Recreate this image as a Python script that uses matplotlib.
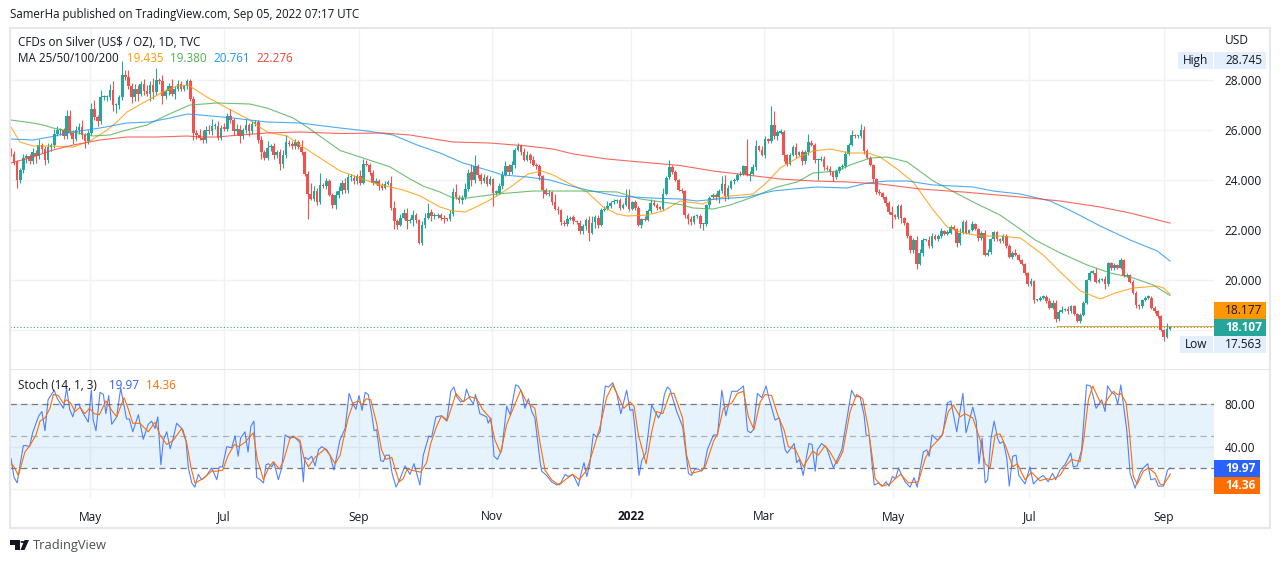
import numpy as np
import matplotlib
matplotlib.use("Agg")
import matplotlib.pyplot as plt
from matplotlib.patches import Rectangle, Polygon, Circle

plt.rcParams['font.family'] = ['Open Sans', 'DejaVu Sans']

# daily closes, 20 per row
closes = [
    25.05,24.70,24.00,24.40,24.90,24.95,24.75,25.10,24.95,25.40,25.25,24.80,25.30,25.40,25.85,26.00,26.00,25.75,26.55,25.90,
    25.65,26.00,26.10,25.80,25.55,25.90,26.85,26.50,26.35,27.30,27.30,27.30,27.60,27.00,27.00,27.30,28.20,28.10,27.75,27.30,
    27.65,27.45,27.85,27.55,27.45,27.80,27.50,28.00,27.95,27.35,27.55,27.75,27.45,27.65,27.85,27.65,27.75,27.95,27.25,25.90,
    25.80,25.70,25.60,26.00,25.95,26.15,26.15,25.70,26.10,26.05,26.55,26.40,25.95,26.05,25.75,26.00,26.20,25.95,26.25,26.30,
    25.60,25.10,24.90,25.30,25.35,25.00,25.10,24.65,25.00,25.50,25.45,25.35,25.50,25.30,25.10,24.25,23.45,23.25,23.55,23.10,
    23.80,23.75,23.95,23.40,23.00,23.40,23.55,23.90,23.60,24.10,24.10,23.95,24.15,23.90,24.65,24.60,24.30,23.90,23.95,23.75,
    23.70,23.85,23.90,22.90,22.35,22.20,22.50,22.70,22.35,22.40,22.60,22.40,21.50,22.20,22.50,22.70,22.55,22.55,22.60,22.50,
    22.45,22.42,22.65,23.53,23.30,23.20,23.30,23.65,24.30,24.00,24.55,24.20,23.95,24.10,23.85,24.05,23.50,23.50,23.75,24.20,
    24.55,24.30,24.60,25.20,25.35,25.10,24.80,25.00,24.80,24.60,24.55,24.15,23.60,23.45,23.50,23.10,22.85,22.80,22.30,22.25,
    22.45,22.50,22.35,22.30,21.95,22.15,22.40,21.90,22.30,22.50,22.20,22.80,22.85,22.95,23.10,23.15,23.20,22.90,23.00,23.30,
    22.85,23.10,22.90,22.20,22.45,22.40,22.75,23.10,23.00,22.90,22.85,23.45,24.10,24.50,24.30,24.00,23.60,23.55,22.60,22.45,
    22.30,22.55,22.55,22.25,22.25,23.00,23.30,23.40,23.30,23.55,23.85,23.35,23.70,23.95,24.00,24.20,24.25,24.55,24.20,24.25,
    24.50,25.35,25.20,25.00,25.65,25.55,26.20,25.75,25.90,25.90,25.00,24.65,25.00,25.30,25.00,25.10,24.75,25.10,25.50,25.40,
    24.80,24.80,24.85,24.50,24.45,24.30,24.10,24.35,24.50,24.55,25.05,25.40,25.80,25.75,25.75,26.00,25.15,24.90,24.60,24.05,
    23.53,23.47,23.30,23.07,22.73,22.60,22.53,22.95,22.48,22.27,21.75,21.20,21.60,20.64,21.08,21.60,21.60,21.35,21.75,21.65,
    21.75,21.95,21.85,21.90,22.10,22.05,21.47,21.90,22.32,21.88,22.00,22.25,22.05,21.67,21.90,21.00,21.10,21.63,21.92,21.63,
    21.55,21.75,21.35,20.93,21.10,21.00,20.80,20.65,20.27,19.83,19.97,19.20,19.20,19.30,19.32,19.15,18.88,19.10,18.43,18.72,
    18.80,18.85,18.75,18.95,18.65,18.37,18.60,19.08,20.00,20.30,20.30,19.92,20.00,20.05,19.83,20.68,20.47,20.60,20.50,20.80,
    20.17,20.20,19.92,19.50,19.00,18.95,19.20,19.30,19.30,18.90,18.75,18.55,18.00,17.73,18.05,18.107]
first_open = 25.15

# wick lengths above and below the body
wick_up = [
    .15,.10,.10,.10,.15,.10,.10,.20,.10,.25,.10,.10,.20,.10,.20,.15,.10,.10,.25,.25,
    .10,.15,.20,.30,.10,.10,.25,.35,.10,.30,.10,.10,.25,.35,.10,.10,.55,.20,.30,.15,
    .20,.15,.10,.20,.25,.15,.30,.50,.10,.25,.10,.15,.30,.10,.15,.10,.05,.10,.10,.10,
    .10,.25,.30,.15,.20,.30,.15,.20,.10,.20,.15,.30,.10,.20,.15,.10,.25,.10,.15,.10,
    .10,.15,.10,.25,.10,.15,.10,.15,.20,.30,.10,.10,.15,.10,.30,.05,.10,.45,.20,.15,
    .50,.10,.15,.10,.10,.15,.20,.10,.20,.15,.15,.10,.10,.25,.20,.15,.10,.10,.15,.10,
    .15,.10,.10,.25,.25,.10,.15,.15,.20,.10,.20,.10,.05,.15,.20,.40,.15,.15,.10,.10,
    .10,.05,.15,.15,.30,.10,.10,.25,.15,.35,.45,.10,.10,.15,.10,.10,.05,.10,.15,.15,
    .20,.10,.15,.10,.15,.10,.20,.15,.10,.15,.10,.10,.05,.10,.10,.05,.35,.10,.05,.10,
    .15,.05,.10,.05,.10,.10,.10,.15,.25,.10,.10,.10,.10,.20,.05,.10,.05,.10,.10,.35,
    .35,.05,.10,.05,.05,.10,.10,.15,.10,.10,.05,.25,.05,.30,.10,.10,.05,.10,.05,.10,
    .10,.05,.10,.10,.05,.05,.05,.10,.10,.10,.30,.35,.10,.05,.10,.10,.10,.05,1.10,.10,
    .15,.25,.05,.15,.10,.05,.75,.55,.10,.15,.10,.05,.10,.10,.20,.05,.10,.10,.35,.10,
    .10,.10,.10,.10,.10,.10,.05,.10,.05,.10,.10,.10,.20,.05,.05,.25,.15,.10,.05,.05,
    .05,.10,.05,.05,.10,.25,.05,.10,.10,.05,.05,.05,.10,.15,.15,.10,.05,.15,.15,.10,
    .10,.15,.05,.10,.10,.10,.05,.20,.10,.10,.05,.10,.05,.05,.05,.10,.15,.05,.05,.05,
    .05,.10,.10,.10,.05,.15,.05,.05,.05,.05,.10,.05,.05,.05,.10,.10,.15,.10,.10,.10,
    .15,.05,.10,.05,.05,.05,.10,.10,.05,.05,.10,.20,.10,.05,.10,.05,.05,.10,.05,.10,
    .05,.10,.05,.10,.05,.05,.05,.05,.10,.05,.05,.05,.05,.05,.23,.05]
wick_down = [
    .10,.10,.30,.10,.10,.20,.10,.10,.25,.10,.15,.20,.10,.15,.10,.10,.20,.10,.10,.10,
    .20,.10,.15,.15,.25,.10,.10,.10,.20,.10,.10,.15,.10,.25,.30,.15,.10,.10,.10,.20,
    .15,.30,.10,.15,.10,.30,.25,.10,.10,.30,.10,.15,.10,.20,.10,.10,.10,.10,.10,.30,
    .15,.10,.10,.10,.10,.15,.10,.10,.10,.10,.10,.10,.15,.15,.25,.10,.10,.20,.10,.10,
    .10,.25,.10,.10,.15,.15,.10,.25,.15,.10,.10,.10,.10,.05,.10,.10,1.00,.05,.10,.10,
    .05,.05,.10,.05,.10,.15,.10,.10,.10,.10,.15,.10,.10,.10,.05,.05,.10,.10,.05,.15,
    .10,.05,.05,.10,.30,.15,.05,.05,.30,.05,.25,.10,.05,.10,.10,.05,.20,.10,.05,.10,
    .15,.05,.05,.10,.05,.10,.15,.05,.10,.25,.10,.10,.10,.05,.10,.05,.55,.10,.05,.10,
    .05,.10,.05,.10,.05,.10,.05,.05,.10,.05,.10,.15,.30,.05,.10,.10,.05,.15,.10,.10,
    .10,.05,.10,.05,.10,.10,.15,.35,.05,.20,.10,.05,.05,.05,.05,.05,.05,.10,.05,.05,
    .10,.05,.10,.05,.10,.05,.05,.05,.05,.10,.05,.05,.05,.05,.05,.05,.05,.05,.10,.20,
    .10,.05,.05,.15,.25,.10,.10,.05,.10,.20,.05,.20,.10,.05,.10,.05,.05,.05,.05,.25,
    .05,.10,.05,.05,.10,.05,.05,.10,.15,.05,.25,.10,.05,.05,.10,.05,.15,.10,.10,.05,
    .10,.80,.05,.10,.05,.10,.15,.05,.05,.05,.05,.05,.05,.05,.05,.05,.10,.05,.05,.15,
    .10,.05,.05,.10,.10,.50,.10,.10,.20,.05,.05,.10,.10,.20,.05,.10,.05,.05,.05,.05,
    .10,.05,.05,.05,.05,.05,.15,.05,.05,.05,.05,.05,.05,.10,.05,.05,.05,.05,.05,.05,
    .05,.05,.05,.05,.10,.05,.05,.05,.05,.05,.05,.10,.05,.05,.05,.05,.05,.05,.10,.05,
    .05,.05,.10,.05,.05,.05,.10,.05,.05,.05,.05,.05,.05,.05,.20,.05,.05,.05,.05,.05,
    .05,.05,.05,.05,.10,.10,.05,.05,.05,.05,.05,.05,.05,.17,.05,.05]

# moving averages: (bar, value) read at the turning points
ma25_bars = [0,2.9,7.1,12.6,20.1,25.6,31.1,34.3,37.5,42.7,49.2,53.7,57.3,63.4,69.9,77.3,82.8,89.3,94.5,100,106.5,112.9,118.4,126.9,132.4,138.8,143,146.9,151.8,157.3,162.5,167.3,171.8,175.4,180.9,186.4,191.6,196.1,199.4,205.8,211,216.5,223.9,227.2,232.7,240.1,244.7,248.9,254.4,259.5,265,271.5,277.3,281.2,286.7,291.9,298.4,302.9,307.1,313.6,320,326.5,327.5,334,339.5,346,352.4,357.3,363.1,370.9,372.9,375]
ma25_vals = [26.12,25.52,25.36,25.36,25.32,25.56,26.0,26.32,26.72,27.08,27.52,27.76,27.8,27.32,26.88,26.4,25.92,25.76,25.32,24.88,24.36,24.08,23.84,23.6,23.36,22.92,22.76,22.72,23.0,23.36,23.8,24.24,24.36,24.2,23.84,23.52,22.92,22.64,22.56,22.6,22.76,23.16,23.04,23.24,23.36,23.44,23.92,24.48,24.88,25.16,25.24,25.08,25.08,24.92,24.44,23.92,22.8,22.12,21.92,21.76,21.76,21.68,21.6,21.0,20.32,19.56,19.24,19.48,19.68,19.76,19.68,19.435]
ma50_bars = [0,7.1,10.4,13.6,20.1,26.5,32,36.2,44,50.5,57.9,66.7,77.3,82.8,91.3,95.8,106.5,113.9,122.7,129.1,133.3,138.8,143,147.6,157.3,168.9,175.4,184.1,196.1,203.6,216.5,220.7,227.2,232.7,240.1,247.9,254.4,259.5,267.3,271.5,278,283.5,290,298.4,311.3,320,326.5,331.4,339.5,348.2,355.7,363.1,369.6,375]
ma50_vals = [26.4,26.28,26.2,26.08,25.92,25.76,25.8,25.96,26.2,26.6,27.0,27.08,27.04,26.88,26.48,26.12,25.18,24.88,24.52,24.04,23.76,23.52,23.28,23.28,23.44,23.56,23.56,23.56,23.52,23.24,23.02,22.88,22.84,23.0,23.32,23.72,23.92,24.28,24.36,24.6,24.88,24.92,24.72,23.96,23.12,22.6,22.04,21.6,21.08,20.6,20.28,20.08,19.8,19.38]
ma100_bars = [0,7.1,12.6,20.1,28.8,37.5,45,51.5,57,61.2,71.8,82.8,93.5,106.5,115.2,123.6,131.4,138.8,146.3,154,159.2,167,174.4,179.9,186.4,196.1,206.8,216.5,222,228.5,238.2,246.6,253.1,260.8,270.5,277,283.5,290,298.4,311.3,317.8,326.5,336.3,344.4,352.4,362.1,370.9,375]
ma100_vals = [25.64,25.6,25.72,25.92,26.08,26.28,26.32,26.48,26.64,26.6,26.48,26.32,26.28,26.08,25.96,25.8,25.4,25.08,24.68,24.4,24.2,24.12,24.0,23.8,23.6,23.36,23.28,23.24,23.16,23.24,23.32,23.56,23.64,23.72,23.68,23.88,23.96,23.96,23.8,23.72,23.56,23.44,23.16,22.68,22.16,21.6,21.16,20.761]
ma200_bars = [0,7.1,13.6,20.1,28.8,37.5,47.2,57,61.2,66.7,74.1,82.8,93.5,106.5,120.4,129.1,143,155,167,175.4,181.9,192.9,203.6,216.5,227.2,238.2,248.9,259.5,270.5,281.2,294.2,308.1,326.5,339.5,352.4,362.1,375]
ma200_vals = [24.68,24.92,25.2,25.4,25.6,25.72,25.72,25.76,25.72,25.72,25.8,25.88,25.92,25.86,25.88,25.8,25.52,25.48,25.36,25.24,25.04,24.84,24.72,24.58,24.36,24.2,24.04,23.96,23.92,23.84,23.64,23.52,23.32,23.16,22.92,22.68,22.276]

# stochastic %K and %D
k_bars = [0,1,2,3,4,5,6,7,9,10,11,12,14,15,17,18,19,20,21,22,23,25,26,26.6,27.5,28.8,29.9,30.7,31.6,32.6,34.2,35.5,37.4,38.3,39.4,41.2,42.8,44.4,45.5,46.6,47.5,48.5,49.3,50.4,51.5,52.5,53.6,55.6,56.6,57.4,58.5,59.5,60.6,61.7,63.3,64.9,66.6,67.4,68.4,69.8,71.4,72.5,73.5,74.3,75.7,76.7,77.6,78.6,79.5,80.6,81.7,82.5,83.3,84.4,85.1,86.5,87.6,88.7,90.3,91.4,92.4,93.5,94.6,95.1,96.2,97.3,98.4,99.5,100.5,102.2,103.2,104.5,106.4,108.1,109.4,110.5,111.6,112.6,113.6,114.6,115.6,116.7,117.5,118.3,119.6,120.5,121.3,122.4,123.3,124.6,125.9,127.5,129.1,130.4,132.3,133.4,135.2,136.1,137.5,139.3,141,142.3,143.3,144.2,145.5,146.6,147.4,148.5,149.6,150.3,151.7,153.9,154.4,155.3,156.3,157.4,158.8,160.4,161.5,163.3,164.1,165.2,166.3,167.4,168.5,169.5,171.2,171.7,173.3,174.9,176.6,177.9,179.3,180.3,181.7,182.5,183.6,184.3,185.4,186.3,187.3,188.4,189.5,190.6,191.6,192.3,193.3,194.7,196,197.3,199.2,200.3,201.2,201.9,203.2,204.1,205.4,207.3,209.5,210.5,211.4,212.4,213.2,215.4,217.3,219.2,220.2,221.3,222.4,223.5,224.2,225.3,227.3,228.6,230,231.3,233.2,235,237,238.3,239.3,240.2,241.5,242.9,244.3,245.4,247.2,248.6,250.5,251.2,253.4,254.2,255.1,256.3,258.2,259.2,260.2,260.9,262.3,263.9,266.1,268.8,272,273.1,274.7,276,276.7,277.7,279.3,280.7,282.1,283.1,284.1,285.2,286.2,287.2,287.9,289.3,290.9,292.2,293.2,295.2,296.3,297.1,298,299.8,301.5,303,304.1,306,308,309,311.2,312.3,313.2,314.2,315.2,316,317.1,318.1,319.2,320,321.1,322.2,323,324.1,325.2,326.1,328.1,329.7,330.8,332.4,334,335.6,337,338,339.4,341,342.9,343.7,345,346.4,348,349.3,351.1,352.9,354,354.8,356.1,357.2,358.1,359.1,360.1,361,362.1,363.7,365.3,366.4,367.8,368.8,370.2,371.2,372.9,374.2,375.1]
k_vals = [29,11,6,24,41,41,40,53,69,73,55,84,93,85,76,95,75,68,79,80,73,63,93,65,55,91,89,71,88,61,68,95,66,66,54,70,47,61,64,57,68,23,46,54,38,48,62,56,46,20,6,2,14,9,13,20,9,21,21,40,39,50,31,48,54,35,59,64,11,9,6,23,24,21,25,9,20,51,48,50,47,44,7,30,28,31,22,37,40,37,32,18,46,57,90,81,75,88,74,91,89,71,55,56,27,26,32,32,15,2,10,22,14,24,4,32,50,49,68,69,64,92,96,87,82,83,94,85,80,89,71,68,62,67,31,28,37,78,70,98,97,92,76,85,73,67,26,17,13,7,4,6,14,12,14,10,3,13,25,12,24,52,49,54,81,97,96,100,90,71,93,74,75,57,13,27,34,79,67,73,89,96,94,73,59,15,13,19,19,17,20,37,51,51,93,69,92,92,97,55,53,56,90,86,97,84,65,67,37,34,43,25,28,13,43,42,17,37,43,39,20,37,93,87,87,70,51,50,4,6,3,7,3,12,10,20,15,7,2,11,2,35,37,31,51,46,52,81,83,54,90,53,77,64,24,48,6,9,48,64,48,43,45,29,3,31,32,13,5,21,5,10,13,7,15,9,18,23,34,21,22,37,98,97,76,84,73,97,91,89,80,98,76,56,15,1,15,20,24,9,10,3,3,18,19.97]
d_bars = [0,0.8,2.4,4.5,6.1,8.1,9.4,11,12.6,13.7,15.3,16.9,18,19.3,20.7,22.3,23.9,25.4,26.9,28.6,30.7,32.6,34.2,36.6,38,39.4,41.7,44.4,46.6,48.2,50.4,52.5,55.2,56.9,58.2,59.5,62.2,64.9,66.6,68.5,70.3,72.3,73.6,75.7,78.4,79.7,81.7,83.3,84.9,86.8,88.1,90.3,91.9,93.5,94.8,96.2,98.4,101.6,103.2,104.9,106.5,107.5,109.1,110.8,112.4,113.6,114.9,116.4,118.3,119.9,121.3,123.2,124.5,125.6,126.9,128.2,131,132.5,134.5,135.8,137.7,139.3,141.2,144,146.3,148.5,150.7,152.6,155,156.6,158.4,160.4,162.5,164.9,166.8,169.5,171.2,172.8,174.9,177.3,179.8,181.7,183.9,186.3,188.4,190.6,192.7,194.7,196.5,198.3,200.3,201.6,203,205.5,207.3,208.9,210.9,213.2,214.5,217.3,218.6,220.2,222.9,224.6,227.3,228.6,230.5,233.2,235,237,238.6,240.4,242.4,244,246.1,248.3,250.1,251.5,253.7,256.4,259.4,261.2,263.4,265,267.2,269.1,271.5,273.6,275.6,277.4,279.6,281.7,284.4,286.1,287.9,290.4,293.6,295.8,297.9,301.2,303.3,304.9,307.1,308.7,311.2,313.6,315.2,316.8,318.4,320,321.9,324.1,325.6,328.1,330.2,332.9,335.1,336.7,339.4,341.6,343.2,345.9,347,348.6,350,352.4,353.7,355.1,356.7,358,359.1,360.8,361.9,363.1,364.4,366.4,368,370.2,371.8,372.9,374.2,375.1]
d_vals = [24,22,13,35,41,51,64,67,76,89,88,81,84,81,73,77,71,76,71,70,83,74,68,86,75,62,62,54,63,51,42,46,57,43,21,6,10,17,17,18,32,42,40,44,53,28,9,20,26,19,26,48,49,46,29,21,30,38,32,24,32,46,67,81,83,79,85,84,62,37,28,30,17,7,10,19,17,16,25,43,59,69,65,90,82,87,85,75,67,46,34,61,76,93,82,76,43,18,9,4,10,14,9,18,37,59,86,98,87,76,82,78,51,24,54,73,71,90,90,67,32,15,17,21,45,52,76,81,90,92,68,56,82,89,88,68,56,40,38,21,36,32,41,35,24,35,73,89,85,57,10,3,5,10,14,6,7,29,40,50,73,79,68,71,67,46,24,20,51,52,40,21,24,9,16,8,10,9,13,23,28,26,45,84,97,82,79,86,92,89,90,81,53,12,5,17,20,15,5,4,10,14.36]

month_labels = ['May', 'Jul', 'Sep', 'Nov', '2022', 'Mar', 'May', 'Jul', 'Sep']
month_bars = [25.6, 69, 112.5, 155.5, 200.5, 243.5, 285.5, 329.5, 373]
price_ticks = [20, 22, 24, 26, 28]
stoch_ticks = [40, 80]

last_close = 18.107
prev_level = 18.177
day_high = 28.745
day_low = 17.563
ma_last = ['19.435', '19.380', '20.761', '22.276']
k_last = '19.97'
d_last = '14.36'

C_UP = '#26a69a'
C_DOWN = '#ef5350'
C_TXT = '#131722'
C_GRID = '#f1f2f4'
C_FRAME = '#e6e7ea'
C_MA = ['#ff9800', '#4caf50', '#2196f3', '#f44336']
C_K = '#2962ff'
C_D = '#ff6d00'

W, H = 1280, 563


def fx(x):
    return x / W


def fy(y):
    return 1 - y / H


def pane(left, top, right, bottom):
    return fig.add_axes([fx(left), fy(bottom), (right - left) / W, (bottom - top) / H])


def box(x0, y0, x1, y1, color):
    fig.patches.append(Rectangle((fx(x0), fy(y1)), (x1 - x0) / W, (y1 - y0) / H,
                                 transform=fig.transFigure, facecolor=color, edgecolor='none', zorder=5))


def label(x, y, s, color=C_TXT, ha='left', size=8.6, **kw):
    fig.text(fx(x), fy(y), s, color=color, ha=ha, va='center', fontsize=size, zorder=6, **kw)


fig = plt.figure(figsize=(W / 100, H / 100), dpi=100, facecolor='white')

ax = pane(10, 28, 1214, 369)
ax2 = pane(10, 370, 1214, 498)

closes = np.array(closes)
opens = np.r_[first_open, closes[:-1]]
bars = np.arange(len(closes))
tops = np.maximum(opens, closes)
bottoms = np.minimum(opens, closes)
highs = tops + np.array(wick_up)
lows = bottoms - np.array(wick_down)
colors = np.where(closes >= opens, C_UP, C_DOWN)

x_limits = (-0.32, 389.24)

# candles
ax.vlines(bars, lows, highs, colors=colors, lw=0.8, zorder=3)
ax.bar(bars, np.maximum(tops - bottoms, 0.05), bottom=bottoms, width=0.86, color=colors, linewidth=0, zorder=3)

for xs, ys, c in zip([ma25_bars, ma50_bars, ma100_bars, ma200_bars],
                     [ma25_vals, ma50_vals, ma100_vals, ma200_vals], C_MA):
    ax.plot(xs, ys, color=c, lw=0.8, alpha=0.8, zorder=4, solid_joinstyle='round')

ax.axhline(last_close, color=C_UP, lw=0.8, ls=(0, (1, 2)), zorder=2)
ax.plot([338.5, x_limits[1]], [prev_level, prev_level], color=C_MA[0], lw=0.7, alpha=0.9, zorder=2)

ax.set_xlim(*x_limits)
ax.set_ylim(16.44, 30.08)
ax.set_yticks(price_ticks + [18])
ax.set_yticklabels(['%.3f' % v for v in price_ticks] + [''])
ax.set_xticks(month_bars)
ax.set_xticklabels([])
ax.yaxis.tick_right()
ax.tick_params(axis='both', length=0, labelsize=8.6, labelcolor=C_TXT)
ax.tick_params(axis='y', pad=7.5)
ax.grid(True, color=C_GRID, lw=1.0, zorder=0)
ax.set_axisbelow(True)

# stochastic pane
ax2.axhspan(20, 80, color='#2196f3', alpha=0.11, lw=0, zorder=1)
ax2.axhline(80, color='#787b86', lw=0.9, ls=(0, (5, 3.5)), zorder=2)
ax2.axhline(50, color='#787b86', lw=0.9, alpha=0.55, ls=(0, (5, 3.5)), zorder=2)
ax2.axhline(20, color='#787b86', lw=0.9, ls=(0, (5, 3.5)), zorder=2)
ax2.plot(k_bars, k_vals, color=C_K, lw=0.8, alpha=0.8, zorder=3)
ax2.plot(d_bars, d_vals, color=C_D, lw=0.8, zorder=4)
ax2.set_xlim(*x_limits)
ax2.set_ylim(-8.2, 112)
ax2.set_yticks(stoch_ticks + [0])
ax2.set_yticklabels(['%.2f' % v for v in stoch_ticks] + [''])
ax2.set_xticks(month_bars)
ax2.set_xticklabels(month_labels)
ax2.yaxis.tick_right()
ax2.tick_params(axis='both', length=0, labelsize=8.6, labelcolor=C_TXT)
ax2.tick_params(axis='y', pad=7.5)
ax2.tick_params(axis='x', pad=9)
ax2.grid(True, color=C_GRID, lw=1.0, zorder=0)
ax2.set_axisbelow(True)
ax2.get_xticklabels()[4].set_fontweight('bold')

for a in (ax, ax2):
    for s in a.spines.values():
        s.set_visible(False)

# outer frame and pane divider
fig.patches.append(Rectangle((fx(10), fy(528)), 1260 / W, 500 / H, transform=fig.transFigure,
                             facecolor='none', edgecolor=C_FRAME, lw=1.5, zorder=4))
fig.patches.append(Rectangle((fx(10), fy(370)), 1260 / W, 1.5 / H, transform=fig.transFigure,
                             facecolor=C_FRAME, edgecolor='none', zorder=4))

# header and legends
label(10, 14.5, 'SamerHa published on TradingView.com, Sep 05, 2022 07:17 UTC', size=8.3)
label(18, 42, 'CFDs on Silver (US$ / OZ), 1D, TVC', size=8.4)
label(18, 59, 'MA 25/50/100/200', size=8.4)
for xpos, s, c in zip([127, 170, 213, 256], ma_last, C_MA):
    label(xpos, 59, s, color=c, size=8.4)
label(18, 385.5, 'Stoch (14, 1, 3)', size=8.4)
label(109, 385.5, k_last, color=C_K, size=8.4)
label(146, 385.5, d_last, color=C_D, size=8.4)

# right scale badges
label(1225, 41, 'USD')
box(1178, 52, 1213, 69, '#e3effd')
box(1214, 52, 1266, 69, '#e3effd')
label(1195.5, 60.5, 'High', ha='center')
label(1225, 60.5, '%.3f' % day_high)
box(1214, 302, 1266, 319, C_MA[0])
label(1225, 310.5, '%.3f' % prev_level)
box(1214, 319, 1266, 336, C_UP)
label(1225, 327.5, '%.3f' % last_close, color='white', fontweight='bold')
box(1180, 336, 1213, 353, '#e3effd')
box(1214, 336, 1266, 353, '#e3effd')
label(1196.5, 344.5, 'Low', ha='center')
label(1225, 344.5, '%.3f' % day_low)
box(1214, 460, 1260, 477, C_K)
label(1225, 468.5, k_last, color='white', fontweight='bold')
box(1214, 477, 1260, 494, C_D)
label(1225, 485.5, d_last, color='white', fontweight='bold')

# TradingView logo
logo = [Polygon([(fx(10), fy(540)), (fx(20), fy(540)), (fx(20), fy(550)), (fx(15), fy(550)), (fx(15), fy(544.5)), (fx(10), fy(544.5))]),
        Polygon([(fx(24.5), fy(550)), (fx(29), fy(540)), (fx(24.5), fy(540)), (fx(20.5), fy(550))])]
for p in logo:
    p.set(facecolor=C_TXT, edgecolor='none', transform=fig.transFigure)
    fig.patches.append(p)
fig.patches.append(Circle((fx(22.6), fy(542)), 2.2 / W, transform=fig.transFigure, facecolor=C_TXT, edgecolor='none'))
label(33, 545.5, 'TradingView', color='#4a4e57', size=9.3)

fig.savefig('out.png', dpi=100)
